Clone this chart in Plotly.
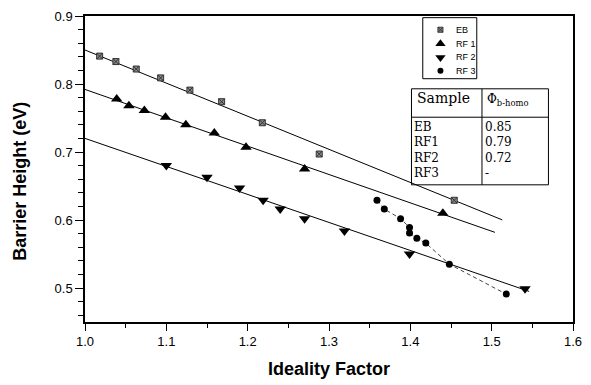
import numpy as np
import plotly.graph_objects as go

# ---------------- data ----------------
eb_x = [1.018, 1.038, 1.063, 1.093, 1.129, 1.168, 1.218, 1.288, 1.454]
eb_y = [0.841, 0.833, 0.822, 0.809, 0.791, 0.774, 0.743, 0.697, 0.629]

rf1_x = [1.039, 1.054, 1.073, 1.099, 1.124, 1.159, 1.198, 1.270, 1.440]
rf1_y = [0.778, 0.768, 0.761, 0.751, 0.740, 0.728, 0.707, 0.675, 0.610]

rf2_x = [1.100, 1.150, 1.190, 1.219, 1.240, 1.270, 1.319, 1.399, 1.541]
rf2_y = [0.680, 0.663, 0.647, 0.629, 0.616, 0.602, 0.584, 0.550, 0.499]

rf3_x = [1.359, 1.368, 1.388, 1.399, 1.399, 1.408, 1.419, 1.448, 1.518]
rf3_y = [0.629, 0.616, 0.602, 0.589, 0.581, 0.573, 0.566, 0.535, 0.491]

# fitted lines: intercept at n = 1.0, slope, x-extent
fit_intercept = {"EB": 0.850, "RF1": 0.792, "RF2": 0.720}
fit_slope = {"EB": -0.487, "RF1": -0.417, "RF2": -0.412}
fit_xend = {"EB": 1.513, "RF1": 1.504, "RF2": 1.546}

samples = ["EB", "RF1", "RF2", "RF3"]
phi_homo = ["0.85", "0.79", "0.72", "-"]
legend_names = ["EB", "RF 1", "RF 2", "RF 3"]

# ---------------- layout helpers (pixel -> paper) ----------------
W, H = 591, 385
L, R, T, B = 85, 582, 15, 327.3


def px(x):
    return (x - L) / (R - L)


def py(y):
    return (B - y) / (B - T)


fig = go.Figure()

# fit lines
for name in ["EB", "RF1", "RF2"]:
    xs = np.array([1.0, fit_xend[name]])
    ys = fit_intercept[name] + fit_slope[name] * (xs - 1.0)
    fig.add_trace(go.Scatter(x=xs, y=ys, mode="lines",
                             line=dict(color="black", width=1), showlegend=False,
                             hoverinfo="skip"))

# RF3 connecting dashed line
fig.add_trace(go.Scatter(x=rf3_x, y=rf3_y, mode="lines",
                         line=dict(color="#444", width=1, dash="4px,3px"),
                         showlegend=False, hoverinfo="skip"))

marker_styles = {
    "EB": dict(symbol="square-x", size=6, color="#8a8a8a", line=dict(color="#333", width=1)),
    "RF1": dict(symbol="triangle-up", size=10, color="black"),
    "RF2": dict(symbol="triangle-down", size=10, color="black"),
    "RF3": dict(symbol="circle", size=7, color="black"),
}

for name, xv, yv in [("EB", eb_x, eb_y), ("RF1", rf1_x, rf1_y),
                     ("RF2", rf2_x, rf2_y), ("RF3", rf3_x, rf3_y)]:
    fig.add_trace(go.Scatter(x=xv, y=yv, mode="markers", name=name,
                             marker=marker_styles[name], showlegend=False))

# ---------------- manual legend ----------------
leg_rows = [29, 43.3, 57.3, 71]
for i, name in enumerate(samples):
    ms = dict(marker_styles[name])
    ms["size"] = ms["size"] - 1
    fig.add_trace(go.Scatter(x=[px(447)], y=[py(leg_rows[i])], mode="markers",
                             marker=ms, xaxis="x2", yaxis="y2", showlegend=False,
                             cliponaxis=False, hoverinfo="skip"))
    fig.add_annotation(x=px(461), y=py(leg_rows[i]), xref="paper", yref="paper",
                       text=legend_names[i], showarrow=False, xanchor="left",
                       yanchor="middle", font=dict(family="Liberation Sans Narrow, Liberation Sans", size=9, color="black"))

shapes = [
    dict(type="rect", xref="paper", yref="paper", x0=px(429), x1=px(484),
         y0=py(79), y1=py(16.7), line=dict(color="black", width=1)),
    # table
    dict(type="rect", xref="paper", yref="paper", x0=px(417.5), x1=px(557),
         y0=py(187.3), y1=py(89.3), line=dict(color="black", width=1),
         fillcolor="white", layer="below"),
    dict(type="line", xref="paper", yref="paper", x0=px(417.5), x1=px(557),
         y0=py(118.3), y1=py(118.3), line=dict(color="black", width=1)),
    dict(type="line", xref="paper", yref="paper", x0=px(489.3), x1=px(489.3),
         y0=py(187.3), y1=py(89.3), line=dict(color="black", width=1)),
]

serif = "DejaVu Serif, Liberation Serif"
fig.add_annotation(x=px(421), y=py(99), xref="paper", yref="paper", text="Sample",
                   showarrow=False, xanchor="left", yanchor="middle",
                   font=dict(family=serif, size=14, color="black"))
fig.add_annotation(x=px(492), y=py(101), xref="paper", yref="paper",
                   text="Φ<sub>b-homo</sub>", showarrow=False, xanchor="left",
                   yanchor="middle", font=dict(family=serif, size=12, color="black"))
row_y = [128, 143.5, 159.5, 175]
for i in range(4):
    fig.add_annotation(x=px(418.5), y=py(row_y[i]), xref="paper", yref="paper",
                       text=samples[i], showarrow=False, xanchor="left", yanchor="middle",
                       font=dict(family=serif, size=12, color="black"))
    fig.add_annotation(x=px(490.5), y=py(row_y[i]), xref="paper", yref="paper",
                       text=phi_homo[i], showarrow=False, xanchor="left", yanchor="middle",
                       font=dict(family=serif, size=12, color="black"))

# y-axis title as annotation (offset from plot centre)
fig.add_annotation(x=px(18), y=py(184), xref="paper", yref="paper",
                   text="<b>Barrier Height (eV)</b>", textangle=-90, showarrow=False,
                   xanchor="center", yanchor="middle",
                   font=dict(family="Liberation Sans, Arial", size=18, color="black"))

fig.update_layout(
    width=W, height=H,
    margin=dict(l=L, r=W - R, t=T, b=H - B),
    paper_bgcolor="white", plot_bgcolor="white",
    shapes=shapes,
    font=dict(family="Liberation Sans, Arial", size=13, color="black"),
    xaxis=dict(range=[1.0, 1.6], dtick=0.1, tickformat=".1f", showgrid=False,
               zeroline=False, showline=True, linecolor="black", linewidth=1.5,
               mirror=True, ticks="outside", ticklen=7, tickwidth=1, tickcolor="black",
               minor=dict(dtick=0.05, ticks="outside", ticklen=4, tickcolor="black"),
               title=dict(text="<b>Ideality Factor</b>", font=dict(size=18), standoff=14)),
    yaxis=dict(range=[0.45, 0.9], tick0=0.5, dtick=0.1, tickformat=".1f", showgrid=False,
               zeroline=False, showline=True, linecolor="black", linewidth=1.5,
               mirror=True, ticks="outside", ticklen=8, tickwidth=1, tickcolor="black",
               minor=dict(dtick=0.02, tick0=0.5, ticks="outside", ticklen=5, tickcolor="black")),
    xaxis2=dict(range=[0, 1], visible=False, overlaying="x", domain=[0, 1]),
    yaxis2=dict(range=[0, 1], visible=False, overlaying="y", domain=[0, 1]),
    showlegend=False,
)

fig.write_html("out.html")
